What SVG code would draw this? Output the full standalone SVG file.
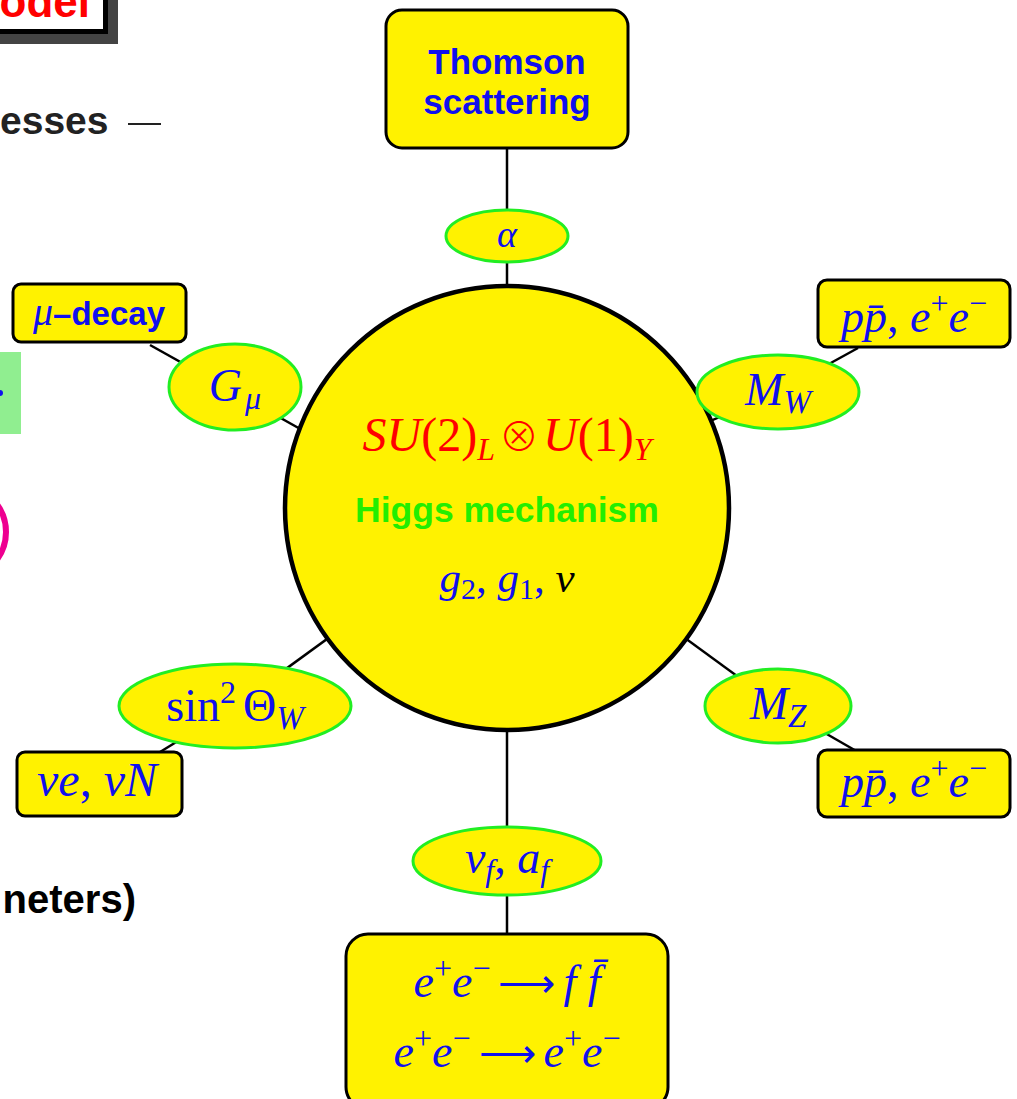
<svg xmlns="http://www.w3.org/2000/svg" width="1017" height="1099" viewBox="0 0 1017 1099">
<style>
.box{fill:#FFF200;stroke:#000;stroke-width:3}
.ell{fill:#FFF200;stroke:#22EE22;stroke-width:3}
.m{font-family:"Liberation Serif","DejaVu Serif",serif;font-style:italic;fill:#1010EE}
.up{font-style:normal}
.op{font-family:"DejaVu Sans",sans-serif;font-style:normal;font-weight:200}
.ot{font-family:"Noto Sans CJK SC","DejaVu Sans",sans-serif;font-style:normal;font-weight:300}
.b{font-family:"Liberation Sans",Arial,sans-serif;font-weight:bold}
.link{stroke:#000;stroke-width:2.5;fill:none}
</style>
<rect width="1017" height="1099" fill="#fff"/>
<g id="background-fragments">
  <rect x="-10" y="-10" width="128" height="54" fill="#444"/>
  <rect x="-10" y="-10" width="115.5" height="41.5" fill="#fff" stroke="#000" stroke-width="5"/>
  <text x="90" y="17" text-anchor="end" class="b" font-size="44" fill="#FF0000">odel</text>
  <text x="0" y="134" class="b" font-size="39" fill="#222">esses</text>
  <line x1="128" y1="124" x2="161" y2="124" stroke="#222" stroke-width="2.2"/>
  <rect x="-5" y="352" width="26" height="82" fill="#90EE90"/>
  <circle cx="0" cy="393" r="3" fill="#1010EE"/>
  <circle cx="-40" cy="532" r="46" fill="none" stroke="#EE0090" stroke-width="6"/>
  <text x="136" y="913" text-anchor="end" class="b" font-size="40" fill="#000">neters)</text>
</g>
<g id="connectors">
  <line class="link" x1="507" y1="148" x2="507" y2="300"/>
  <line class="link" x1="150" y1="345" x2="320" y2="440"/>
  <line class="link" x1="507" y1="508" x2="778" y2="392"/>
  <line class="link" x1="778" y1="392" x2="858" y2="348"/>
  <line class="link" x1="507" y1="508" x2="778" y2="706"/>
  <line class="link" x1="778" y1="706" x2="858" y2="752"/>
  <line class="link" x1="507" y1="508" x2="235" y2="706"/>
  <line class="link" x1="235" y1="706" x2="160" y2="752"/>
  <line class="link" x1="507" y1="700" x2="507" y2="936"/>
</g>
<g id="thomson">
  <rect class="box" x="386" y="10" width="242" height="138" rx="16"/>
  <text x="507" y="74" text-anchor="middle" class="b" font-size="35" fill="#1010EE">Thomson</text>
  <text x="507" y="114" text-anchor="middle" class="b" font-size="35" fill="#1010EE">scattering</text>
</g>
<g id="alpha">
  <ellipse class="ell" cx="507" cy="236" rx="61" ry="26"/>
  <text x="507" y="247" text-anchor="middle" class="m" font-size="38">α</text>
</g>
<g id="mu-decay">
  <rect class="box" x="13" y="284" width="173" height="58" rx="8"/>
  <text x="99" y="325" text-anchor="middle" font-size="33"><tspan class="m" font-size="40">μ</tspan><tspan class="b" fill="#1010EE">–decay</tspan></text>
</g>
<g id="gmu">
  <ellipse class="ell" cx="235" cy="387" rx="66" ry="43"/>
  <text x="235" y="401" text-anchor="middle" class="m" font-size="46">G<tspan font-size="32" dy="8" dx="3">μ</tspan></text>
</g>
<g id="core">
  <circle cx="507" cy="508" r="222" fill="#FFF200" stroke="#000" stroke-width="4.5"/>
  <text x="507" y="451" text-anchor="middle" class="m" font-size="48" style="fill:#FF0000">SU<tspan class="up">(2)</tspan><tspan font-size="32" dy="9">L</tspan><tspan class="ot" font-size="40" dy="-9" dx="4">⊗</tspan><tspan dx="4">U</tspan><tspan class="up">(1)</tspan><tspan font-size="32" dy="9">Y</tspan></text>
  <text x="507" y="522" text-anchor="middle" class="b" font-size="35.5" fill="#22EE00">Higgs mechanism</text>
  <text x="507" y="592" text-anchor="middle" class="m" font-size="43">g<tspan class="up" font-size="30" dy="7">2</tspan><tspan class="up" dy="-7">,  </tspan>g<tspan class="up" font-size="30" dy="7">1</tspan><tspan class="up" dy="-7">, </tspan><tspan style="fill:#000">v</tspan></text>
</g>
<g id="mw">
  <ellipse class="ell" cx="778" cy="392" rx="81" ry="37"/>
  <text x="778" y="405" text-anchor="middle" class="m" font-size="46">M<tspan font-size="33" dy="8">W</tspan></text>
</g>
<g id="mw-source">
  <rect class="box" x="818" y="280" width="192" height="67" rx="9"/>
  <text x="914" y="332" text-anchor="middle" class="m" font-size="46">pp̄<tspan class="up">,   </tspan>e<tspan class="up" font-size="32" dy="-18">+</tspan><tspan dy="18">e</tspan><tspan class="up" font-size="32" dy="-18">−</tspan></text>
</g>
<g id="mz">
  <ellipse class="ell" cx="778" cy="706" rx="73" ry="37"/>
  <text x="778" y="719" text-anchor="middle" class="m" font-size="46">M<tspan font-size="33" dy="8">Z</tspan></text>
</g>
<g id="mz-source">
  <rect class="box" x="818" y="750" width="192" height="67" rx="9"/>
  <text x="914" y="797" text-anchor="middle" class="m" font-size="46">pp̄<tspan class="up">,   </tspan>e<tspan class="up" font-size="32" dy="-18">+</tspan><tspan dy="18">e</tspan><tspan class="up" font-size="32" dy="-18">−</tspan></text>
</g>
<g id="sinw">
  <ellipse class="ell" cx="235" cy="706" rx="116" ry="42"/>
  <text x="235" y="721" text-anchor="middle" class="m" font-size="46"><tspan class="up">sin</tspan><tspan class="up" font-size="32" dy="-18">2</tspan><tspan class="up" dy="18" dx="7">Θ</tspan><tspan font-size="33" dy="8">W</tspan></text>
</g>
<g id="nu-source">
  <rect class="box" x="17" y="752" width="165" height="64" rx="8"/>
  <text x="97" y="796" text-anchor="middle" class="m" font-size="48">νe<tspan class="up">,   </tspan>νN</text>
</g>
<g id="vfaf">
  <ellipse class="ell" cx="507" cy="861" rx="94" ry="34"/>
  <text x="507" y="873" text-anchor="middle" class="m" font-size="46">v<tspan font-size="32" dy="8">f</tspan><tspan class="up" dy="-8">,   </tspan>a<tspan font-size="32" dy="8">f</tspan></text>
</g>
<g id="ee">
  <rect class="box" x="346" y="934" width="322" height="175" rx="22"/>
  <text x="507" y="997" text-anchor="middle" class="m" font-size="46">e<tspan class="up" font-size="32" dy="-18">+</tspan><tspan dy="18">e</tspan><tspan class="up" font-size="32" dy="-18">−</tspan><tspan class="op" font-size="40" dy="18" dx="8">⟶</tspan><tspan dx="8">f </tspan>f̄</text>
  <text x="507" y="1067" text-anchor="middle" class="m" font-size="46">e<tspan class="up" font-size="32" dy="-18">+</tspan><tspan dy="18">e</tspan><tspan class="up" font-size="32" dy="-18">−</tspan><tspan class="op" font-size="40" dy="18" dx="8">⟶</tspan><tspan dx="8">e</tspan><tspan class="up" font-size="32" dy="-18">+</tspan><tspan dy="18">e</tspan><tspan class="up" font-size="32" dy="-18">−</tspan></text>
</g>
</svg>
